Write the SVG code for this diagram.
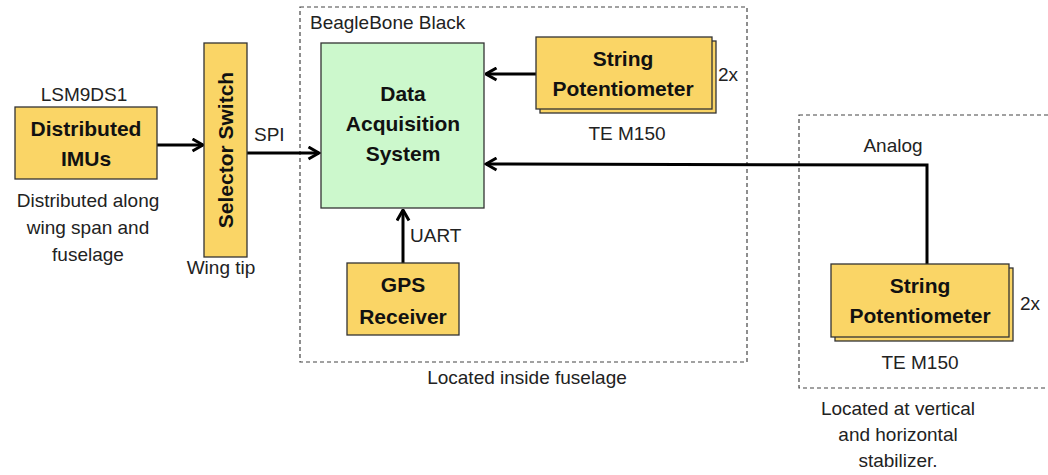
<svg xmlns="http://www.w3.org/2000/svg" width="1048" height="475" viewBox="0 0 1048 475">
<defs>
<style>
.box{fill:#FAD566;stroke:#333;stroke-width:1.3}
.das{fill:#CCF8CC;stroke:#333;stroke-width:1.3}
.dash{fill:none;stroke:#444;stroke-width:1.2;stroke-dasharray:4,3}
.t{font-family:"Liberation Sans",Arial,sans-serif;font-size:19px;fill:#222}
.b{font-family:"Liberation Sans",Arial,sans-serif;font-size:21px;font-weight:bold;fill:#111}
.w{stroke:#000;stroke-width:3;fill:none}
</style>
<marker id="ah" viewBox="0 0 10 10" refX="9" refY="5" markerWidth="5" markerHeight="5" orient="auto" markerUnits="strokeWidth">
<polyline points="2,1 9,5 2,9" fill="none" stroke="#000" stroke-width="2"/>
</marker>
</defs>
<rect width="1048" height="475" fill="#fff"/>

<g id="groups">
<rect class="dash" x="300" y="7" width="447" height="355"/>
<text class="t" x="310" y="29">BeagleBone Black</text>
<text class="t" x="527" y="384" text-anchor="middle">Located inside fuselage</text>
<rect class="dash" x="799" y="115" width="270" height="273"/>
<text class="t" text-anchor="middle"><tspan x="898" y="415">Located at vertical</tspan><tspan x="898" y="441">and horizontal</tspan><tspan x="898" y="467">stabilizer.</tspan></text>
</g>

<g id="connectors">
<line class="w" x1="157" y1="145" x2="203" y2="145" marker-end="url(#ah)"/>
<line class="w" x1="247" y1="153" x2="319" y2="153" marker-end="url(#ah)"/>
<line class="w" x1="536" y1="74" x2="486" y2="74" marker-end="url(#ah)"/>
<polyline class="w" points="927,265 927,165 486,164" marker-end="url(#ah)"/>
<line class="w" x1="403" y1="263" x2="403" y2="210" marker-end="url(#ah)"/>
<text class="t" x="254" y="141">SPI</text>
<text class="t" x="410" y="242">UART</text>
<text class="t" x="893" y="152" text-anchor="middle">Analog</text>
</g>

<g id="imus">
<text class="t" x="84" y="101" text-anchor="middle">LSM9DS1</text>
<rect class="box" x="15" y="107" width="142" height="72"/>
<text class="b" text-anchor="middle"><tspan x="86" y="136">Distributed</tspan><tspan x="86" y="166">IMUs</tspan></text>
<text class="t" text-anchor="middle"><tspan x="88" y="207">Distributed along</tspan><tspan x="88" y="234">wing span and</tspan><tspan x="88" y="261">fuselage</tspan></text>
</g>

<g id="selector">
<rect class="box" x="204" y="43" width="43" height="214"/>
<text class="b" transform="translate(233,150) rotate(-90)" text-anchor="middle">Selector Switch</text>
<text class="t" x="221" y="274" text-anchor="middle">Wing tip</text>
</g>

<g id="das">
<rect class="das" x="321" y="43" width="163" height="165"/>
<text class="b" text-anchor="middle"><tspan x="403" y="101">Data</tspan><tspan x="403" y="131">Acquisition</tspan><tspan x="403" y="161">System</tspan></text>
</g>

<g id="strpot1">
<rect class="box" x="540" y="41" width="176" height="72"/>
<rect class="box" x="536" y="37" width="176" height="72"/>
<text class="b" text-anchor="middle"><tspan x="623" y="66">String</tspan><tspan x="623" y="96">Potentiometer</tspan></text>
<text class="t" x="718" y="81">2x</text>
<text class="t" x="627" y="140" text-anchor="middle">TE M150</text>
</g>

<g id="gps">
<rect class="box" x="347" y="263" width="112" height="72"/>
<text class="b" text-anchor="middle"><tspan x="403" y="292">GPS</tspan><tspan x="403" y="324">Receiver</tspan></text>
</g>

<g id="strpot2">
<rect class="box" x="835" y="268" width="178" height="73"/>
<rect class="box" x="831" y="264" width="178" height="73"/>
<text class="b" text-anchor="middle"><tspan x="920" y="293">String</tspan><tspan x="920" y="323">Potentiometer</tspan></text>
<text class="t" x="1020" y="310">2x</text>
<text class="t" x="920" y="369" text-anchor="middle">TE M150</text>
</g>
</svg>
